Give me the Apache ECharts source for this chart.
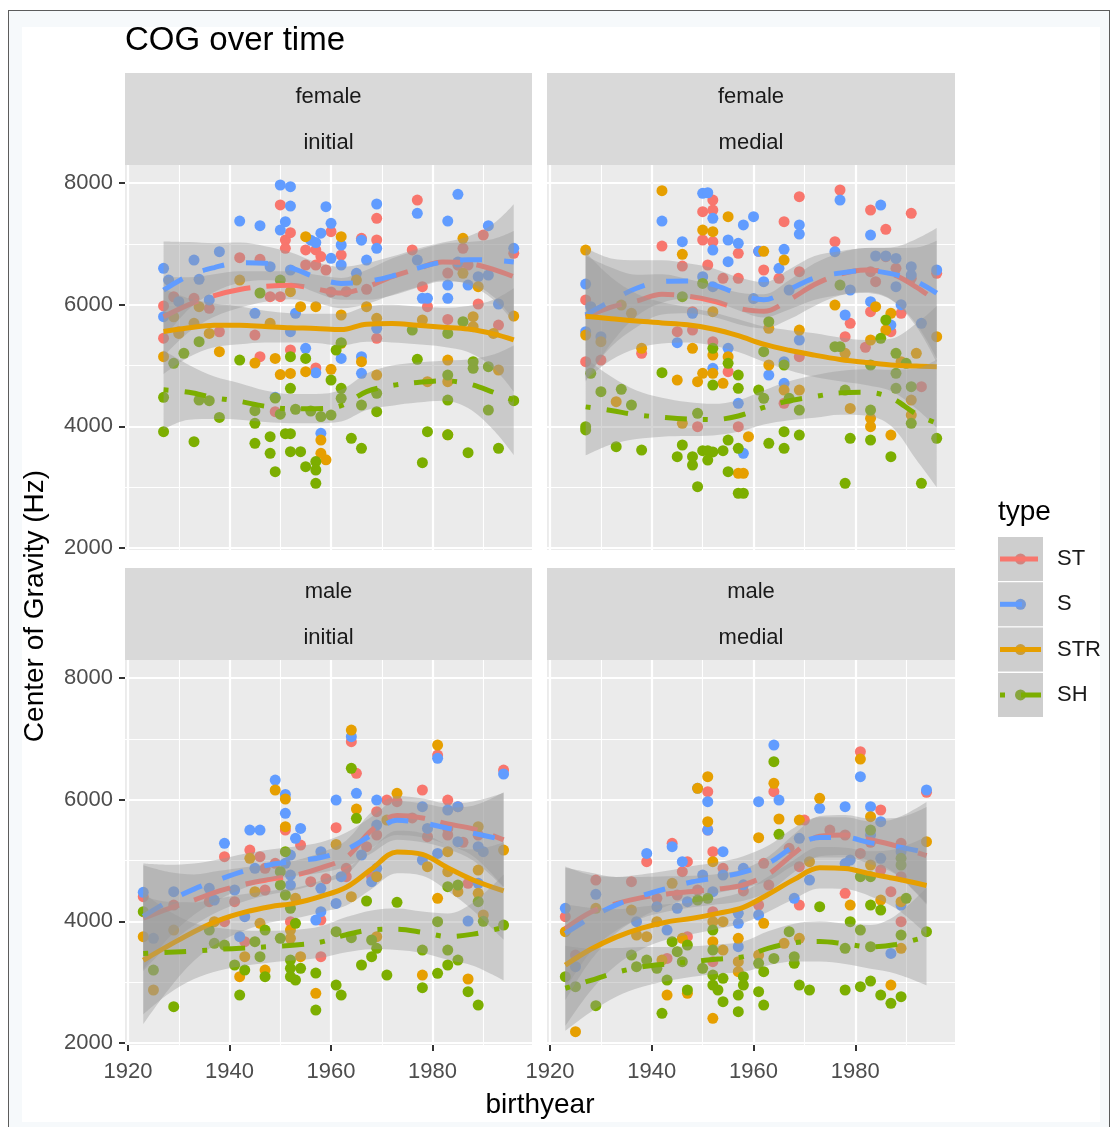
<!DOCTYPE html>
<html>
<head>
<meta charset="utf-8">
<title>COG over time</title>
<script src="https://cdn.jsdelivr.net/npm/echarts@6/dist/echarts.min.js"></script>
<style>
  html, body { margin: 0; padding: 0; background: #fff; overflow: hidden; }
  #frame { position: absolute; left: 8px; top: 10px; width: 1100px; height: 1130px;
           border: 1px solid #5c5c5c; background: #f6f9fb; }
  #sheet { position: absolute; left: 22px; top: 27px; width: 1078px; height: 1095px; background: #fff; }
  #chart { position: absolute; left: 0; top: 0; width: 1111px; height: 1127px; }
</style>
</head>
<body>
<div id="frame"></div>
<div id="sheet"></div>
<div id="chart"></div>
<script>
// ---------------------------------------------------------------
// Centre of gravity (Hz) per speaker, by birth year, for each
// gender x position facet and each fricative type.
// ---------------------------------------------------------------
const types = ['ST', 'S', 'STR', 'SH'];
const xTicks = [1920, 1940, 1960, 1980];
const yTicks = [2000, 4000, 6000, 8000];

// female / initial
const femaleInitialST = [[1927,5980],[1927,5450],[1929,6130],[1930,5555],[1933,6104],[1936,5940],[1938,5555],[1942,6772],[1946,6745],[1945,5500],[1946,5145],[1948,6131],[1950,6131],[1950,7640],[1951,7063],[1951,6926],[1952,7183],[1955,6900],[1957,6900],[1958,6790],[1955,6652],[1957,6652],[1952,5255],[1957,4960],[1949,4241],[1959,6570],[1960,7200],[1962,6816],[1960,6210],[1966,7090],[1969,7419],[1969,7063],[1963,6213],[1967,6252],[1969,5446],[1976,6899],[1977,7720],[1978,6296],[1979,5967],[1983,5758],[1986,6926],[1987,6652],[1989,6011],[1993,5665],[1996,6844],[1985,6650],[1990,7145],[1983,6520]];
const femaleInitialS = [[1927,6597],[1927,5802],[1928,6405],[1930,6049],[1933,6734],[1934,6416],[1936,6077],[1938,6871],[1942,7375],[1946,7298],[1945,5857],[1948,6624],[1950,7967],[1952,7940],[1952,7620],[1951,7364],[1950,7227],[1956,7060],[1958,7175],[1957,7020],[1952,6570],[1953,5857],[1952,5556],[1955,5282],[1957,4880],[1949,4476],[1958,3885],[1959,7611],[1960,7337],[1962,6981],[1960,6762],[1962,6652],[1966,7060],[1969,7655],[1969,6926],[1967,6734],[1965,6515],[1969,5611],[1962,5117],[1966,5145],[1966,4871],[1977,7501],[1977,6734],[1978,6104],[1979,6104],[1983,7375],[1985,7814],[1991,7298],[1983,6104],[1983,6323],[1989,6460],[1987,6323],[1991,6487],[1993,6011],[1996,6926],[1985,6700]];
const femaleInitialSTR = [[1927,5145],[1929,5800],[1930,5528],[1933,5693],[1934,5967],[1936,5528],[1938,5227],[1942,6405],[1945,5040],[1948,5693],[1949,5117],[1950,4850],[1952,4870],[1952,6213],[1954,5967],[1957,5967],[1955,4898],[1955,7118],[1958,3775],[1958,3556],[1962,7118],[1962,5830],[1965,6405],[1967,5967],[1969,5775],[1962,5364],[1966,5063],[1969,4843],[1960,4937],[1978,5748],[1979,4734],[1983,5090],[1983,4734],[1983,3860],[1986,6515],[1986,7090],[1988,5802],[1988,5638],[1989,6296],[1992,5528],[1993,4926],[1996,5813],[1959,3450]];
const femaleInitialSH = [[1927,4476],[1927,3912],[1929,5035],[1931,5200],[1933,3748],[1934,5391],[1934,4432],[1936,4421],[1938,4147],[1942,5090],[1945,4257],[1945,4049],[1945,3720],[1946,6192],[1948,3830],[1948,3556],[1949,3254],[1949,4465],[1950,6405],[1950,4200],[1951,3880],[1952,3880],[1952,3583],[1952,5145],[1952,4624],[1953,4280],[1954,3583],[1955,5117],[1955,3337],[1956,4250],[1957,3063],[1957,3420],[1957,3282],[1958,4160],[1960,4761],[1962,5375],[1961,5254],[1962,4624],[1962,4460],[1964,3802],[1966,4350],[1966,3638],[1969,4542],[1969,4241],[1960,4186],[1976,5583],[1977,5101],[1978,3402],[1979,3912],[1983,5528],[1983,4843],[1983,4432],[1983,3860],[1986,5720],[1988,5063],[1988,4953],[1991,4981],[1991,4268],[1996,4421],[1987,3567],[1993,3638]];

// female / medial
const femaleMedialST = [[1927,6077],[1927,5063],[1930,5090],[1938,5200],[1942,6964],[1946,6635],[1945,5556],[1948,5583],[1948,5885],[1950,7529],[1952,7720],[1952,7556],[1950,7063],[1952,7035],[1951,6652],[1954,6433],[1952,5391],[1955,4898],[1957,6844],[1957,6433],[1957,3994],[1949,3994],[1961,6877],[1962,6570],[1966,7364],[1965,6433],[1969,7775],[1969,6542],[1966,4378],[1969,5145],[1976,7035],[1977,7885],[1979,5693],[1978,5474],[1983,7556],[1986,7238],[1986,6789],[1988,6597],[1991,7501],[1991,6433],[1983,6542],[1984,6378],[1983,5885],[1989,5857],[1987,5556],[1993,4652],[1996,6515],[1982,5300]];
const femaleMedialS = [[1927,6339],[1927,5556],[1928,5967],[1930,5474],[1942,7375],[1946,7035],[1945,5375],[1948,5857],[1950,7830],[1951,7840],[1952,7419],[1952,6898],[1950,6460],[1952,6296],[1955,7063],[1957,7008],[1958,7310],[1955,6707],[1952,4953],[1955,5282],[1957,4378],[1958,3556],[1960,7446],[1961,6877],[1962,6378],[1960,6100],[1966,6910],[1965,6597],[1969,7310],[1969,7160],[1967,6241],[1963,4843],[1966,5063],[1966,4707],[1969,5419],[1977,7720],[1976,6871],[1979,6241],[1978,5830],[1985,7638],[1983,7145],[1984,6800],[1986,6800],[1988,6761],[1991,6624],[1991,6487],[1988,6296],[1983,6049],[1989,6000],[1987,5665],[1993,5693],[1996,6570]];
const femaleMedialSTR = [[1927,6898],[1927,5500],[1930,5391],[1934,5994],[1936,5857],[1933,4405],[1938,5282],[1942,7874],[1946,6827],[1948,5282],[1945,4761],[1946,4049],[1949,4734],[1950,7227],[1952,7200],[1952,5885],[1952,5172],[1952,4871],[1950,4871],[1954,4707],[1955,7446],[1955,5145],[1959,3830],[1957,3227],[1958,3227],[1962,6877],[1963,5611],[1966,6734],[1963,5008],[1966,4597],[1969,5583],[1969,4597],[1976,5994],[1978,5200],[1979,4295],[1983,5419],[1983,4131],[1983,3994],[1984,5967],[1987,5857],[1986,5583],[1989,5063],[1992,5200],[1991,4432],[1991,4186],[1987,3857],[1996,5474]];
const femaleMedialSH = [[1928,4871],[1930,4570],[1934,4608],[1936,4350],[1927,3995],[1927,3940],[1933,3665],[1938,3610],[1942,4882],[1946,6131],[1946,3693],[1945,3501],[1948,3501],[1948,3364],[1949,3008],[1949,4213],[1950,6350],[1952,5282],[1952,4679],[1950,3600],[1951,3600],[1952,3580],[1954,3600],[1951,3446],[1955,5035],[1957,4843],[1957,4624],[1955,3775],[1955,3254],[1957,3638],[1957,2900],[1958,2900],[1961,4597],[1962,4460],[1963,5720],[1962,5227],[1966,5008],[1967,4460],[1969,4268],[1966,3912],[1969,3857],[1963,3720],[1966,3638],[1977,6323],[1976,5310],[1977,5310],[1978,4597],[1979,3802],[1978,3063],[1983,5008],[1983,4268],[1983,3775],[1986,5748],[1985,5446],[1988,5200],[1988,4871],[1988,4624],[1991,4652],[1990,5035],[1991,4049],[1987,3501],[1993,3063],[1996,3802]];

// male / initial
const maleInitialST = [[1923,4405],[1929,4268],[1936,4323],[1939,5063],[1939,3994],[1941,4323],[1943,3665],[1944,5172],[1946,5063],[1947,4871],[1947,4515],[1951,5501],[1954,5254],[1949,4953],[1956,4652],[1952,3994],[1958,3419],[1958,4021],[1959,4700],[1964,6953],[1965,6433],[1961,5539],[1963,4734],[1963,4871],[1967,5227],[1968,4734],[1969,5803],[1969,5419],[1971,5994],[1973,5967],[1978,6159],[1979,5391],[1981,6734],[1983,5994],[1985,5885],[1983,5528],[1983,5419],[1987,4624],[1989,5419],[1994,6487],[1976,5700],[1986,5300]];
const maleInitialS = [[1923,4476],[1925,3720],[1929,4487],[1936,4542],[1937,4350],[1939,5282],[1941,4515],[1943,4076],[1942,3747],[1944,5501],[1946,5501],[1945,4871],[1949,6323],[1951,6087],[1951,5775],[1954,5528],[1953,5364],[1952,5090],[1951,4953],[1952,4761],[1952,4597],[1958,4158],[1957,4021],[1958,4542],[1958,5145],[1964,7035],[1965,6104],[1961,5994],[1962,4734],[1961,4295],[1966,5090],[1968,4652],[1969,5994],[1969,5583],[1969,4871],[1978,5885],[1979,5528],[1978,5008],[1981,6679],[1983,5830],[1985,5885],[1981,5117],[1985,5310],[1987,4005],[1989,5227],[1989,4624],[1990,5145],[1994,6422]];
const maleInitialSTR = [[1923,3747],[1925,2871],[1929,3857],[1937,3994],[1942,3090],[1943,3419],[1944,5035],[1945,4487],[1946,3967],[1947,3199],[1949,6159],[1951,6011],[1951,5556],[1953,4378],[1952,3857],[1952,3720],[1954,3419],[1957,2816],[1964,7145],[1965,5846],[1961,5265],[1964,4405],[1969,4734],[1969,3747],[1971,5665],[1973,6104],[1979,4898],[1981,6898],[1983,5145],[1983,4816],[1981,4378],[1985,4487],[1978,3117],[1987,3052],[1989,5556],[1989,4843],[1989,4460],[1990,4104],[1994,5172]];
const maleInitialSH = [[1923,4158],[1925,3199],[1929,2597],[1936,3857],[1937,3638],[1939,3610],[1941,3282],[1942,2788],[1943,3199],[1945,3665],[1947,3857],[1946,3419],[1947,3090],[1950,3720],[1951,5145],[1950,4816],[1950,4597],[1951,4433],[1952,4213],[1953,3967],[1952,3364],[1952,3227],[1954,3227],[1952,3090],[1953,3035],[1957,3150],[1957,2542],[1964,6515],[1965,5693],[1961,3830],[1964,3731],[1966,3282],[1968,3693],[1968,3419],[1969,3556],[1967,4334],[1971,3117],[1961,2953],[1962,2788],[1973,4312],[1978,3528],[1978,2909],[1981,3994],[1981,3145],[1983,4570],[1985,4597],[1983,3528],[1983,3282],[1985,3364],[1987,2843],[1989,4323],[1989,2624],[1990,4000],[1994,3939]];

// male / medial
const maleMedialST = [[1923,4076],[1925,3446],[1929,4679],[1936,4652],[1939,4980],[1941,4378],[1943,3391],[1944,5282],[1947,4980],[1946,4816],[1945,4433],[1947,3747],[1951,6131],[1951,5501],[1952,5145],[1954,4871],[1949,4515],[1952,4158],[1952,3337],[1964,6131],[1962,4953],[1963,4597],[1961,4268],[1970,5665],[1967,5200],[1969,4898],[1969,4268],[1978,5419],[1978,4460],[1981,6789],[1985,5830],[1981,5117],[1985,4843],[1987,4487],[1989,5282],[1989,4734],[1989,3994],[1994,6120],[1975,5500],[1983,5300],[1958,4500]];
const maleMedialS = [[1923,4213],[1925,3254],[1929,4444],[1937,3994],[1939,5117],[1941,4241],[1943,3857],[1944,5227],[1946,4980],[1945,4213],[1947,4323],[1949,6186],[1951,5967],[1951,5501],[1950,4761],[1954,5145],[1954,4761],[1952,4487],[1957,4131],[1957,3967],[1957,3583],[1958,4871],[1964,6898],[1965,5994],[1961,5967],[1958,4600],[1961,4104],[1969,5364],[1971,4679],[1968,4378],[1973,5857],[1978,5885],[1979,5008],[1978,4950],[1981,6378],[1983,5885],[1985,5638],[1983,5419],[1985,5035],[1989,5145],[1989,4268],[1987,3473],[1994,6159]];
const maleMedialSTR = [[1923,3830],[1925,2186],[1929,4213],[1936,4186],[1937,3775],[1939,3747],[1941,3994],[1942,3364],[1943,2788],[1944,4624],[1946,3720],[1947,2816],[1949,6186],[1951,6378],[1951,5638],[1952,4980],[1952,3994],[1954,3994],[1952,3665],[1954,3528],[1952,2405],[1957,3720],[1957,3337],[1957,3172],[1964,6268],[1965,5682],[1961,5375],[1962,3967],[1961,3446],[1969,5665],[1971,4980],[1969,3720],[1966,3638],[1973,6022],[1979,4268],[1981,6668],[1983,5720],[1983,4926],[1985,4350],[1989,4323],[1989,3556],[1987,2953],[1994,5310]];
const maleMedialSH = [[1923,3090],[1925,2925],[1929,2613],[1936,3446],[1937,3254],[1939,3364],[1941,3227],[1943,3035],[1942,2487],[1944,3665],[1945,3501],[1947,3610],[1946,3337],[1947,2871],[1949,4350],[1951,4378],[1952,3857],[1952,3528],[1950,3227],[1952,3117],[1954,3063],[1952,2953],[1953,2871],[1954,2679],[1958,3090],[1958,2953],[1957,2788],[1957,2515],[1964,6624],[1965,5430],[1964,3391],[1961,3309],[1962,3172],[1961,2843],[1962,2624],[1967,3830],[1968,3419],[1968,3309],[1969,2953],[1971,2871],[1973,4241],[1983,5501],[1981,4734],[1983,4734],[1989,5035],[1989,4926],[1990,4378],[1979,3994],[1981,3857],[1978,3556],[1983,3583],[1983,4268],[1985,4186],[1989,3775],[1978,2871],[1981,2925],[1983,3018],[1985,2788],[1987,2652],[1989,2761],[1994,3830]];

// Loess smooths: fitted value and 95% half-width at these birth years
const smoothYearsFemale = [1927,1932,1937,1942,1947,1952,1957,1962,1967,1972,1977,1982,1987,1992,1996];
const smoothYearsMale   = [1923,1928,1933,1938,1943,1948,1953,1958,1963,1968,1973,1978,1983,1988,1994];

const femaleInitialFitST  = [5800,6000,6150,6250,6300,6320,6260,6190,6290,6460,6590,6700,6680,6580,6460];
const femaleInitialFitS   = [6240,6480,6610,6690,6680,6610,6450,6350,6380,6470,6600,6700,6740,6730,6700];
const femaleInitialFitSTR = [5560,5620,5660,5660,5640,5620,5610,5590,5680,5690,5660,5630,5600,5520,5420];
const femaleInitialFitSH  = [4600,4560,4470,4410,4330,4290,4290,4340,4570,4670,4720,4750,4700,4560,4430];
const femaleInitialSeST   = [650,450,350,300,250,230,230,250,280,300,300,300,350,500,750];
const femaleInitialSeS    = [800,550,400,330,280,250,250,270,300,320,320,320,380,600,950];
const femaleInitialSeSTR  = [700,480,360,310,260,240,240,260,290,310,310,320,380,560,850];
const femaleInitialSeSH   = [650,450,350,300,260,240,240,260,300,330,330,330,400,620,900];

const femaleMedialFitST  = [5800,5960,6060,6170,6140,6060,5940,5890,6080,6330,6500,6570,6510,6290,6050];
const femaleMedialFitS   = [5830,6060,6270,6380,6390,6330,6180,6080,6250,6440,6520,6560,6510,6380,6190];
const femaleMedialFitSTR = [5810,5770,5730,5700,5670,5600,5490,5350,5250,5170,5100,5050,5010,4990,4980];
const femaleMedialFitSH  = [4320,4260,4190,4150,4120,4110,4170,4310,4420,4490,4550,4560,4470,4200,4050];
const femaleMedialSeST   = [1000,650,430,330,280,260,260,280,320,350,350,360,420,650,1000];
const femaleMedialSeS    = [1100,700,460,350,290,270,270,290,330,360,360,370,430,700,1070];
const femaleMedialSeSTR  = [1050,680,450,340,290,270,270,290,330,360,360,370,430,700,1000];
const femaleMedialSeSH   = [800,560,400,320,280,260,260,280,320,350,360,380,460,750,1050];

const maleInitialFitST  = [4050,4210,4350,4500,4610,4690,4760,4880,5050,5500,5740,5700,5600,5520,5340];
const maleInitialFitS   = [4080,4330,4530,4690,4830,4930,4990,5050,5180,5420,5660,5620,5530,5450,5340];
const maleInitialFitSTR = [3360,3600,3830,4020,4150,4240,4300,4410,4560,4860,5140,5100,4880,4680,4500];
const maleInitialFitSH  = [3470,3490,3510,3540,3560,3585,3610,3660,3780,3860,3870,3820,3750,3790,3900];
const maleInitialSeST   = [870,600,420,330,280,250,240,250,280,300,320,320,340,450,770];
const maleInitialSeS    = [870,600,420,330,280,250,240,250,280,300,320,320,340,450,780];
const maleInitialSeSTR  = [1050,720,480,360,300,260,250,260,300,330,350,350,380,500,800];
const maleInitialSeSH   = [1000,680,460,350,290,260,250,260,290,320,340,340,380,520,870];

const maleMedialFitST  = [3880,4150,4290,4390,4450,4490,4530,4600,4780,5120,5400,5420,5340,5240,5080];
const maleMedialFitS   = [3800,4060,4270,4420,4540,4650,4720,4810,4960,5230,5380,5380,5290,5230,5130];
const maleMedialFitSTR = [3280,3540,3740,3890,3990,4050,4130,4230,4450,4690,4880,4870,4780,4700,4590];
const maleMedialFitSH  = [2900,3030,3160,3250,3300,3340,3380,3420,3560,3650,3670,3630,3580,3620,3750];
const maleMedialSeST   = [1000,650,440,340,290,260,250,260,290,310,330,330,350,460,800];
const maleMedialSeS    = [1100,700,460,350,290,260,250,260,290,310,330,330,350,460,830];
const maleMedialSeSTR  = [1000,680,460,350,290,260,250,260,290,320,340,340,370,490,800];
const maleMedialSeSH   = [700,520,400,330,280,250,240,250,280,310,330,330,360,480,800];

// ---------------------------------------------------------------
// Styling
// ---------------------------------------------------------------
const FONT = '"Liberation Sans", Arial, Helvetica, sans-serif';
const typeColor = { ST: '#F8766D', S: '#619CFF', STR: '#E69F00', SH: '#7CAE00' };
const typeDash  = { ST: [38, 16], S: [22, 22], STR: 'solid', SH: [5, 16, 22, 16] };
const BAND_FILL = 'rgba(153,153,153,0.4)';
const LINE_W = 5;
const SMOOTH = 0.35;
const X_RANGE = [1919.4, 1999.6];
const Y_RANGE = [1967, 8296];

const facets = [
  { strip: ['female', 'initial'], rect: { left: 125, top: 165, width: 407, height: 385 }, xAxisShown: false, yAxisShown: true,
    points: { ST: femaleInitialST, S: femaleInitialS, STR: femaleInitialSTR, SH: femaleInitialSH },
    years: smoothYearsFemale,
    fit: { ST: femaleInitialFitST, S: femaleInitialFitS, STR: femaleInitialFitSTR, SH: femaleInitialFitSH },
    se:  { ST: femaleInitialSeST,  S: femaleInitialSeS,  STR: femaleInitialSeSTR,  SH: femaleInitialSeSH } },
  { strip: ['female', 'medial'], rect: { left: 547, top: 165, width: 408, height: 385 }, xAxisShown: false, yAxisShown: false,
    points: { ST: femaleMedialST, S: femaleMedialS, STR: femaleMedialSTR, SH: femaleMedialSH },
    years: smoothYearsFemale,
    fit: { ST: femaleMedialFitST, S: femaleMedialFitS, STR: femaleMedialFitSTR, SH: femaleMedialFitSH },
    se:  { ST: femaleMedialSeST,  S: femaleMedialSeS,  STR: femaleMedialSeSTR,  SH: femaleMedialSeSH } },
  { strip: ['male', 'initial'], rect: { left: 125, top: 660, width: 407, height: 385 }, xAxisShown: true, yAxisShown: true,
    points: { ST: maleInitialST, S: maleInitialS, STR: maleInitialSTR, SH: maleInitialSH },
    years: smoothYearsMale,
    fit: { ST: maleInitialFitST, S: maleInitialFitS, STR: maleInitialFitSTR, SH: maleInitialFitSH },
    se:  { ST: maleInitialSeST,  S: maleInitialSeS,  STR: maleInitialSeSTR,  SH: maleInitialSeSH } },
  { strip: ['male', 'medial'], rect: { left: 547, top: 660, width: 408, height: 385 }, xAxisShown: true, yAxisShown: false,
    points: { ST: maleMedialST, S: maleMedialS, STR: maleMedialSTR, SH: maleMedialSH },
    years: smoothYearsMale,
    fit: { ST: maleMedialFitST, S: maleMedialFitS, STR: maleMedialFitSTR, SH: maleMedialFitSH },
    se:  { ST: maleMedialSeST,  S: maleMedialSeS,  STR: maleMedialSeSTR,  SH: maleMedialSeSH } }
];

const STRIP_H = 92;

function axisCommon(shown, ticks) {
  return {
    axisLine: { show: false },
    axisTick: { show: shown, length: 6, lineStyle: { color: '#333333', width: 2 }, customValues: ticks },
    axisLabel: { show: shown, customValues: ticks, color: '#4d4d4d', fontSize: 22, fontFamily: FONT,
                 formatter: v => String(v) },
    splitLine: { show: true, lineStyle: { color: '#ffffff', width: 2.2 } },
    minorTick: { show: false, splitNumber: 2 },
    minorSplitLine: { show: true, lineStyle: { color: '#ffffff', width: 1.1 } }
  };
}

const grids = [], xAxes = [], yAxes = [], series = [], graphics = [];

facets.forEach((f, i) => {
  grids.push(Object.assign({ show: true, backgroundColor: '#ebebeb', borderWidth: 0, containLabel: false }, f.rect));

  const xa = axisCommon(f.xAxisShown, xTicks);
  xa.axisLabel.margin = 16;
  xAxes.push(Object.assign({ type: 'value', gridIndex: i, min: X_RANGE[0], max: X_RANGE[1], splitNumber: 5 }, xa));

  const ya = axisCommon(f.yAxisShown, yTicks);
  ya.axisLabel.margin = 12;
  yAxes.push(Object.assign({ type: 'value', gridIndex: i, min: Y_RANGE[0], max: Y_RANGE[1], splitNumber: 3 }, ya));

  // points sit underneath the smoothers
  types.forEach(t => {
    series.push({
      type: 'scatter', name: t, xAxisIndex: i, yAxisIndex: i, data: f.points[t],
      symbolSize: 11, itemStyle: { color: typeColor[t], opacity: 1 }, z: 2, silent: true
    });
  });

  // one ribbon + line per type, drawn in group order.
  // Ribbon rows are [value, year] so the stacked dimension is the y value.
  types.forEach((t, k) => {
    const yrs = f.years, fit = f.fit[t], se = f.se[t];
    const stack = 'band-' + i + '-' + t;
    series.push({
      type: 'line', xAxisIndex: i, yAxisIndex: i, stack: stack,
      encode: { x: 1, y: 0 },
      data: yrs.map((x, j) => [fit[j] - se[j], x]),
      symbol: 'none', smooth: SMOOTH, lineStyle: { width: 0, opacity: 0 }, z: 3 + 2 * k, silent: true
    });
    series.push({
      type: 'line', xAxisIndex: i, yAxisIndex: i, stack: stack,
      encode: { x: 1, y: 0 },
      data: yrs.map((x, j) => [2 * se[j], x]),
      symbol: 'none', smooth: SMOOTH, lineStyle: { width: 0, opacity: 0 },
      areaStyle: { color: BAND_FILL, opacity: 1 }, z: 3 + 2 * k, silent: true
    });
    series.push({
      type: 'line', xAxisIndex: i, yAxisIndex: i,
      data: yrs.map((x, j) => [x, fit[j]]),
      symbol: 'none', smooth: SMOOTH,
      lineStyle: { color: typeColor[t], width: LINE_W, type: typeDash[t], cap: 'butt' },
      z: 4 + 2 * k, silent: true
    });
  });

  // facet strip
  const r = f.rect;
  graphics.push({ type: 'rect', shape: { x: r.left, y: r.top - STRIP_H, width: r.width, height: STRIP_H },
                  style: { fill: '#d9d9d9' }, silent: true });
  f.strip.forEach((s, j) => {
    graphics.push({ type: 'text', x: r.left + r.width / 2, y: r.top - STRIP_H + 24 + j * 46,
      style: { text: s, fill: '#1a1a1a', font: '22px ' + FONT, textAlign: 'center', textVerticalAlign: 'middle' },
      silent: true });
  });
});

// titles
graphics.push({ type: 'text', x: 125, y: 41,
  style: { text: 'COG over time', fill: '#000', font: '33px ' + FONT, textAlign: 'left', textVerticalAlign: 'middle' } });
graphics.push({ type: 'text', x: 540, y: 1105,
  style: { text: 'birthyear', fill: '#000', font: '28px ' + FONT, textAlign: 'center', textVerticalAlign: 'middle' } });
graphics.push({ type: 'text', x: 35, y: 606, rotation: Math.PI / 2,
  style: { text: 'Center of Gravity (Hz)', fill: '#000', font: '28px ' + FONT, textAlign: 'center', textVerticalAlign: 'middle' } });

// legend
const LEG_X = 998, LEG_Y = 537, KEY = 44, KEY_GAP = 1.3;
graphics.push({ type: 'text', x: LEG_X, y: 512,
  style: { text: 'type', fill: '#000', font: '28px ' + FONT, textAlign: 'left', textVerticalAlign: 'middle' } });
types.forEach((t, k) => {
  const y0 = LEG_Y + k * (KEY + KEY_GAP), cy = y0 + KEY / 2;
  graphics.push({ type: 'rect', shape: { x: LEG_X, y: y0, width: KEY + 1, height: KEY }, style: { fill: '#f2f2f2' } });
  graphics.push({ type: 'circle', shape: { cx: LEG_X + KEY / 2 + 0.5, cy: cy, r: 5.5 }, style: { fill: typeColor[t] } });
  graphics.push({ type: 'rect', shape: { x: LEG_X, y: y0, width: KEY + 1, height: KEY }, style: { fill: BAND_FILL } });
  graphics.push({ type: 'line', shape: { x1: LEG_X + 2, y1: cy, x2: LEG_X + KEY - 1, y2: cy },
    style: { stroke: typeColor[t], lineWidth: LINE_W, lineDash: typeDash[t] === 'solid' ? null : typeDash[t] } });
  graphics.push({ type: 'text', x: LEG_X + 59, y: cy,
    style: { text: t, fill: '#1a1a1a', font: '22px ' + FONT, textAlign: 'left', textVerticalAlign: 'middle' } });
});

const chart = echarts.init(document.getElementById('chart'), null, { renderer: 'canvas' });
chart.setOption({
  backgroundColor: 'transparent',
  animation: false,
  textStyle: { fontFamily: FONT },
  grid: grids,
  xAxis: xAxes,
  yAxis: yAxes,
  series: series,
  graphic: { elements: graphics }
});
</script>
</body>
</html>
